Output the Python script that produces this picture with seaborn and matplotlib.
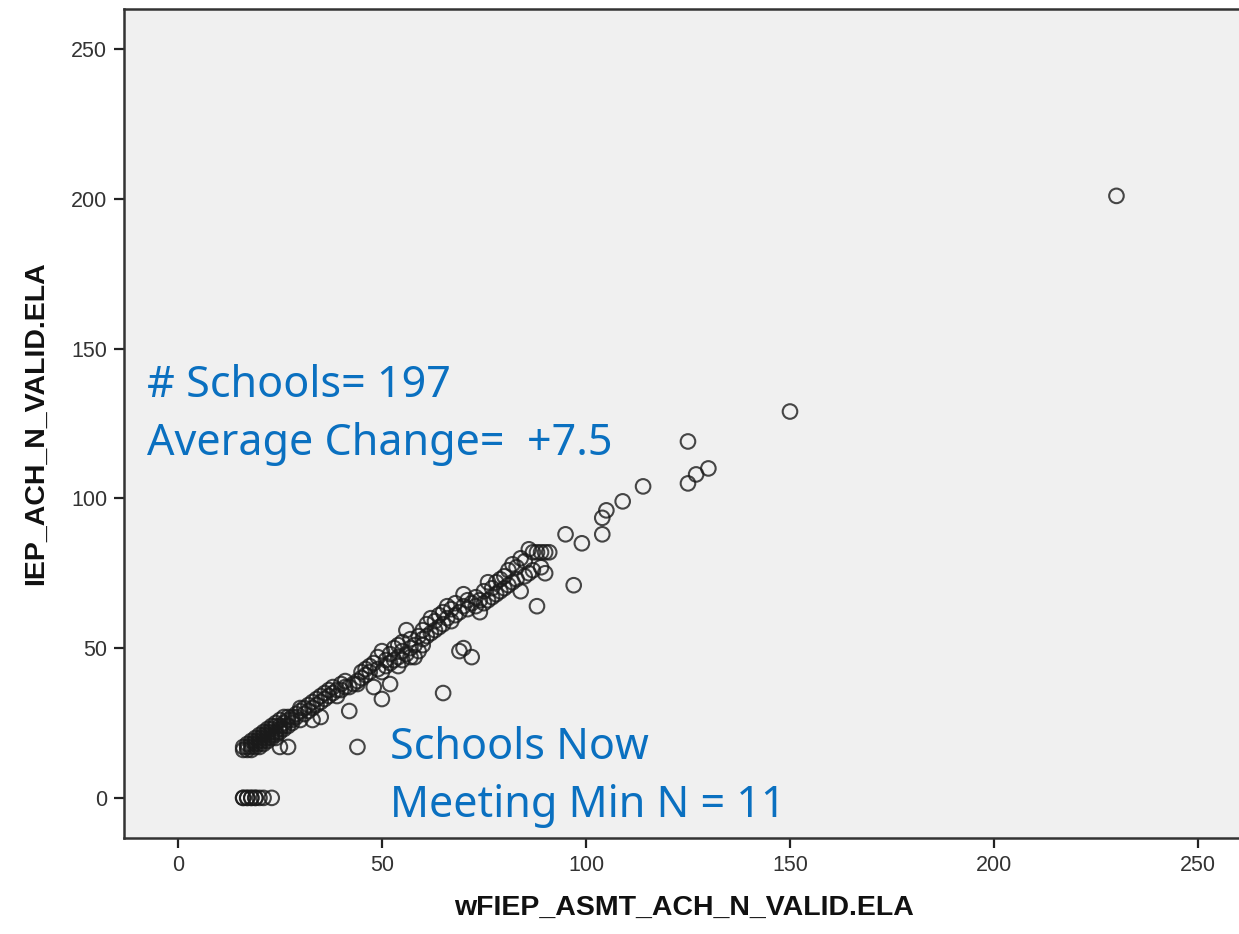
import matplotlib
matplotlib.use("Agg")
import matplotlib.pyplot as plt
import seaborn as sns
import pandas as pd

# ---- data ----
x_zero = [16, 16, 17, 17, 18, 18, 19, 19, 20, 21, 23]
y_zero = [0, 0, 0, 0, 0, 0, 0, 0, 0, 0, 0]

x_a = [16, 16, 17, 17, 17, 18, 18, 18, 18, 19, 19, 19, 19, 20, 20, 20, 20, 20, 21, 21, 21, 21, 21,
       22, 22, 22, 22, 22, 23, 23, 23, 23, 23, 24, 24, 24, 24, 24, 25, 25, 25, 25, 26, 26, 26, 26,
       27, 27, 27, 28, 25, 27]
y_a = [16, 17, 16, 17, 18, 16, 17, 18, 19, 17, 18, 19, 20, 18, 19, 20, 21, 17, 19, 20, 21, 22, 18,
       20, 21, 22, 23, 19, 20, 22, 23, 24, 21, 21, 22, 24, 25, 20, 22, 23, 24, 26, 23, 24, 25, 27,
       24, 26, 27, 25, 17, 17]

x_b = [28, 28, 29, 29, 30, 30, 30, 31, 31, 32, 32, 33, 33, 33, 34, 34, 35, 35, 35, 36, 36, 37, 37,
       38, 38, 39, 39, 40, 40, 41, 41, 42, 42, 43, 44, 44, 44]
y_b = [26, 27, 27, 28, 26, 29, 30, 28, 30, 29, 31, 26, 30, 32, 31, 33, 27, 32, 34, 33, 35, 34, 36,
       35, 37, 34, 36, 36, 38, 37, 39, 29, 37, 38, 38, 39, 17]

x_c = [45, 45, 46, 46, 47, 47, 48, 48, 49, 49, 50, 50, 50, 51, 51, 52, 52, 52, 53, 53, 54, 54, 54,
       55, 55, 55, 56, 56, 57, 57, 57, 58, 58, 59, 59, 60, 60, 60, 65]
y_c = [40, 42, 41, 43, 42, 44, 37, 45, 43, 47, 33, 42, 49, 44, 46, 38, 45, 48, 46, 50, 44, 47, 51,
       46, 49, 52, 48, 56, 47, 50, 53, 47, 51, 49, 54, 51, 53, 56, 35]

x_d = [61, 61, 62, 62, 63, 63, 64, 64, 65, 65, 66, 66, 67, 67, 68, 68, 69, 69, 70, 70, 70, 71, 71,
       72, 72, 73, 73, 74, 74, 75, 75]
y_d = [54, 58, 55, 60, 56, 59, 57, 61, 58, 62, 60, 64, 59, 63, 61, 65, 49, 62, 50, 64, 68, 63, 66,
       47, 65, 64, 67, 62, 66, 65, 69]

x_e = [76, 76, 77, 77, 78, 78, 79, 79, 80, 80, 81, 81, 82, 82, 83, 83, 84, 84, 85, 85, 86, 86, 87,
       87, 88, 88, 89, 89, 90, 90, 91]
y_e = [66, 72, 67, 70, 68, 72, 69, 73, 70, 74, 71, 76, 72, 78, 73, 77, 69, 80, 74, 79, 75, 83, 76,
       82, 64, 82, 77, 82, 75, 82, 82]

x_hi = [95, 97, 99, 104, 104, 105, 109, 114, 125, 125, 127, 130, 150, 230]
y_hi = [88, 71, 85, 88, 93.5, 96, 99, 104, 119, 105, 108, 110, 129, 201]

x_ticks = [0, 50, 100, 150, 200, 250]
y_ticks = [0, 50, 100, 150, 200, 250]

x_label = "wFIEP_ASMT_ACH_N_VALID.ELA"
y_label = "IEP_ACH_N_VALID.ELA"
note_top = ["# Schools= 197", "Average Change=  +7.5"]
note_bottom = ["Schools Now", "Meeting Min N = 11"]

df = pd.DataFrame({
    "x": x_zero + x_a + x_b + x_c + x_d + x_e + x_hi,
    "y": y_zero + y_a + y_b + y_c + y_d + y_e + y_hi,
})

# ---- plot ----
sns.set_style("ticks")
plt.rcParams["font.family"] = ["Liberation Sans", "DejaVu Sans"]

fig = plt.figure(figsize=(12.39, 9.34), dpi=100)
ax = fig.add_axes([124 / 1239, 96 / 934, (1245 - 124) / 1239, (925 - 96) / 934])
ax.set_facecolor("#F0F0F0")

sns.scatterplot(data=df, x="x", y="y", ax=ax, marker="o", s=110,
                facecolors="none", edgecolor="#1a1a1a", linewidth=1.5, alpha=0.8,
                legend=False)

ax.set_xlim(-13.2, 261.5)
ax.set_ylim(-13.4, 263.4)
ax.set_xticks(x_ticks)
ax.set_yticks(y_ticks)
ax.tick_params(direction="out", length=7, width=1.6, color="#222222",
               labelsize=15.5, labelcolor="#333333", pad=5)

for side in ["left", "bottom", "top", "right"]:
    ax.spines[side].set_visible(True)
    ax.spines[side].set_linewidth(1.8)
    ax.spines[side].set_color("#333333")

ax.set_xlabel(x_label, fontsize=20.5, fontweight="bold", color="#111111", labelpad=14)
ax.set_ylabel(y_label, fontsize=20.5, fontweight="bold", color="#111111", labelpad=16)

blue = "#0A70C0"
fam = ["Noto Sans", "DejaVu Sans"]
ax.text(-7.6, 137.6, note_top[0], fontsize=31, color=blue, va="center", ha="left", family=fam)
ax.text(-7.6, 118.2, note_top[1], fontsize=31, color=blue, va="center", ha="left", family=fam)
ax.text(52, 16.7, note_bottom[0], fontsize=31, color=blue, va="center", ha="left", family=fam)
ax.text(52, -2.7, note_bottom[1], fontsize=31, color=blue, va="center", ha="left", family=fam)

fig.savefig("out.png", dpi=100)
